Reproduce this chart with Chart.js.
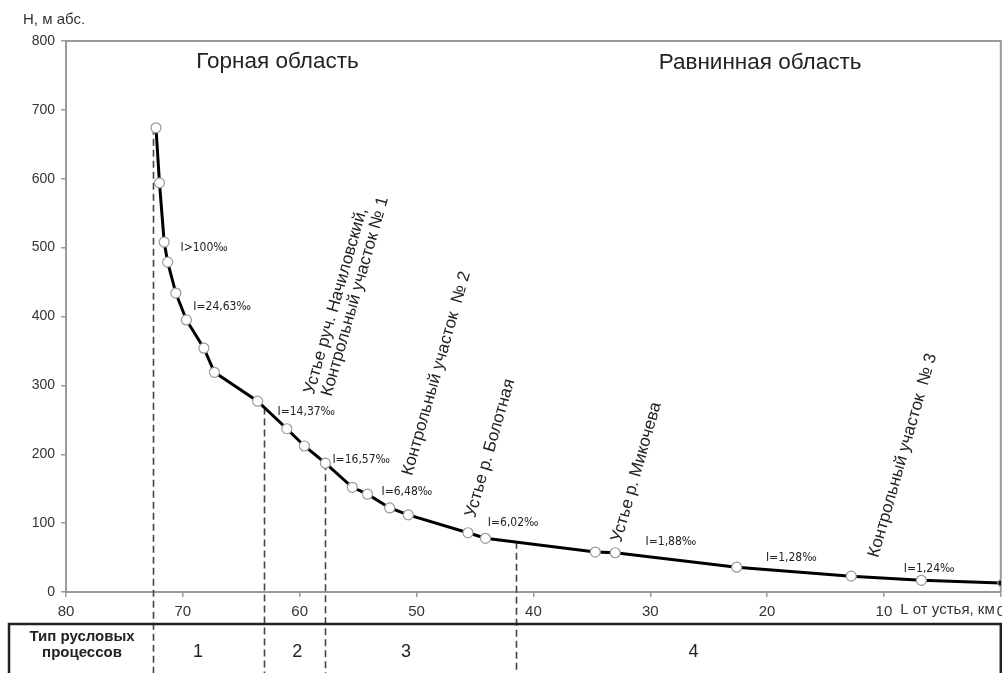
<!DOCTYPE html>
<html>
<head>
<meta charset="utf-8">
<script src="https://cdn.jsdelivr.net/npm/chart.js@4.4.1/dist/chart.umd.min.js"></script>
<style>
  html, body { margin: 0; padding: 0; background: #fff; overflow: hidden; }
  #wrap { position: relative; width: 1002px; height: 673px; overflow: hidden; }
  .yTitle { position: absolute; left: 23px; top: 10px; font: 15px "Liberation Sans", Arial, sans-serif; color: #333; }
</style>
</head>
<body>
<div id="wrap">
  <!-- холст чуть шире окна: правый край графика уходит за кадр, как в оригинале -->
  <canvas id="profile" width="1007" height="673"></canvas>
  <div class="yTitle">Н, м абс.</div>
</div>
<script>
    // продольный профиль: расстояние от устья (км) и высота (м абс.)
    const distKm  = [72.3, 72.0, 71.6, 71.3, 70.6, 69.7, 68.2, 67.3, 63.6, 61.1, 59.6, 57.8, 55.5, 54.2, 52.3, 50.7, 45.6, 44.1, 34.7, 33.0, 22.6, 12.8, 6.8, 0];
    const heightM = [674, 594, 508, 479, 434, 395, 354, 319, 277, 237, 212, 187, 152, 142, 122, 112, 86, 78, 58, 57, 36, 23, 17, 13];

    const xTicks = [0, 10, 20, 30, 40, 50, 60, 70, 80];
    const yTicks = [0, 100, 200, 300, 400, 500, 600, 700, 800];

    // уклоны
    const slopeText = ['I>100‰', 'I=24,63‰', 'I=14,37‰', 'I=16,57‰', 'I=6,48‰', 'I=6,02‰', 'I=1,88‰', 'I=1,28‰', 'I=1,24‰'];
    const slopeL    = [70.2, 69.1, 61.9, 57.2, 53.0, 43.9, 30.4, 20.1, 8.3];
    const slopeH    = [499, 414, 261, 192, 145, 100, 73, 49, 33];

    // подписи пунктов
    const siteText = ['Устье руч. Начиловский,', 'Контрольный участок № 1', 'Контрольный участок  № 2', 'Устье р. Болотная', 'Устье р. Микочева', 'Контрольный участок  № 3'];
    const siteL    = [58.8, 57.3, 50.4, 45.0, 32.5, 10.5];
    const siteH    = [286, 283, 168, 107, 71, 49];

    const regionText = ['Горная область', 'Равнинная область'];
    const regionL    = [61.9, 20.6];
    const regionH    = [770, 768];

    // границы типов русловых процессов
    const dividerL = [72.55, 63.05, 57.85, 41.5];
    const dividerH = [674, 268, 187, 73];
    const processType = ['1', '2', '3', '4'];
    const processL    = [68.7, 60.2, 50.9, 26.3];

    const axisGray = '#9a9a9a';
    const sans = '"Liberation Sans", Arial, sans-serif';

    const points = distKm.map((d, i) => ({ x: d, y: heightM[i] }));
    const pointFill = distKm.map((d, i) => i === distKm.length - 1 ? '#000' : '#fff');
    const pointRad = distKm.map((d, i) => i === distKm.length - 1 ? 3 : 5);

    const profilePlugin = {
      id: 'profilePlugin',
      beforeDatasetsDraw(chart) {
        const { ctx, chartArea, scales: { x, y } } = chart;
        ctx.save();
        // рамка
        ctx.strokeStyle = axisGray;
        ctx.lineWidth = 2;
        ctx.beginPath();
        ctx.moveTo(chartArea.left, chartArea.top);
        ctx.lineTo(chartArea.right, chartArea.top);
        ctx.lineTo(chartArea.right, chartArea.bottom);
        ctx.stroke();
        // пунктирные границы
        ctx.strokeStyle = '#444';
        ctx.lineWidth = 1.6;
        ctx.setLineDash([7, 4]);
        dividerL.forEach((d, i) => {
          const px = Math.round(x.getPixelForValue(d)) + 0.5;
          ctx.beginPath();
          ctx.moveTo(px, y.getPixelForValue(dividerH[i]));
          ctx.lineTo(px, chart.height);
          ctx.stroke();
        });
        ctx.restore();
      },
      afterDatasetsDraw(chart) {
        const { ctx, chartArea, scales: { x, y } } = chart;
        ctx.save();

        // уклоны
        ctx.fillStyle = '#222';
        ctx.font = '12px "DejaVu Sans Condensed", "DejaVu Sans", sans-serif';
        ctx.textAlign = 'left';
        ctx.textBaseline = 'middle';
        slopeText.forEach((t, i) => ctx.fillText(t, x.getPixelForValue(slopeL[i]), y.getPixelForValue(slopeH[i])));

        // области
        ctx.fillStyle = '#222';
        ctx.font = '22.5px ' + sans;
        ctx.textAlign = 'center';
        regionText.forEach((t, i) => ctx.fillText(t, x.getPixelForValue(regionL[i]), y.getPixelForValue(regionH[i])));

        // наклонные подписи
        ctx.font = '17px ' + sans;
        ctx.textAlign = 'left';
        ctx.textBaseline = 'alphabetic';
        siteText.forEach((t, i) => {
          ctx.save();
          ctx.translate(x.getPixelForValue(siteL[i]), y.getPixelForValue(siteH[i]));
          ctx.rotate(-74 * Math.PI / 180);
          ctx.fillText(t, 0, 0);
          ctx.restore();
        });

        // подпись оси X
        ctx.fillStyle = '#333';
        ctx.font = '15px ' + sans;
        ctx.textBaseline = 'middle';
        ctx.textAlign = 'left';
        ctx.fillText('L от устья, км', x.getPixelForValue(8.6), chartArea.bottom + 18);

        // таблица
        const top = chartArea.bottom + 32;
        ctx.strokeStyle = '#222';
        ctx.lineWidth = 2.5;
        ctx.beginPath();
        ctx.moveTo(9, chart.height);
        ctx.lineTo(9, top);
        ctx.lineTo(chart.width, top);
        ctx.moveTo(chartArea.right, top);
        ctx.lineTo(chartArea.right, chart.height);
        ctx.stroke();

        ctx.fillStyle = '#222';
        ctx.textAlign = 'center';
        ctx.font = 'bold 15px ' + sans;
        ctx.fillText('Тип русловых', 82, top + 13);
        ctx.fillText('процессов', 82, top + 29);
        ctx.font = '18px ' + sans;
        processType.forEach((t, i) => ctx.fillText(t, x.getPixelForValue(processL[i]), top + 28));
        ctx.restore();
      }
    };

    new Chart(document.getElementById('profile'), {
      type: 'line',
      data: {
        datasets: [{
          data: points,
          borderColor: '#000',
          borderWidth: 3,
          tension: 0,
          pointRadius: pointRad,
          pointBackgroundColor: pointFill,
          pointBorderColor: '#999',
          pointBorderWidth: 1.2
        }]
      },
      options: {
        responsive: false,
        animation: false,
        layout: { padding: { top: 41, right: 2, left: 0, bottom: 0 } },
        plugins: { legend: { display: false }, tooltip: { enabled: false } },
        scales: {
          x: {
            type: 'linear',
            reverse: true,
            min: 0,
            max: 80,
            afterBuildTicks: s => { s.ticks = xTicks.map(v => ({ value: v })); },
            afterFit: s => { s.height = 81; },
            grid: { drawOnChartArea: false, tickLength: 5, color: axisGray, lineWidth: 1.5 },
            border: { color: axisGray, width: 2 },
            ticks: { color: '#333', padding: 6, maxRotation: 0, font: { size: 15, family: sans } }
          },
          y: {
            min: 0,
            max: 800,
            afterBuildTicks: s => { s.ticks = yTicks.map(v => ({ value: v })); },
            afterFit: s => { s.width = 66; },
            grid: { drawOnChartArea: false, tickLength: 5, color: axisGray, lineWidth: 1.5 },
            border: { color: axisGray, width: 2 },
            ticks: { color: '#333', padding: 6, font: { size: 14, family: sans } }
          }
        }
      },
      plugins: [profilePlugin]
    });
</script>
</body>
</html>
